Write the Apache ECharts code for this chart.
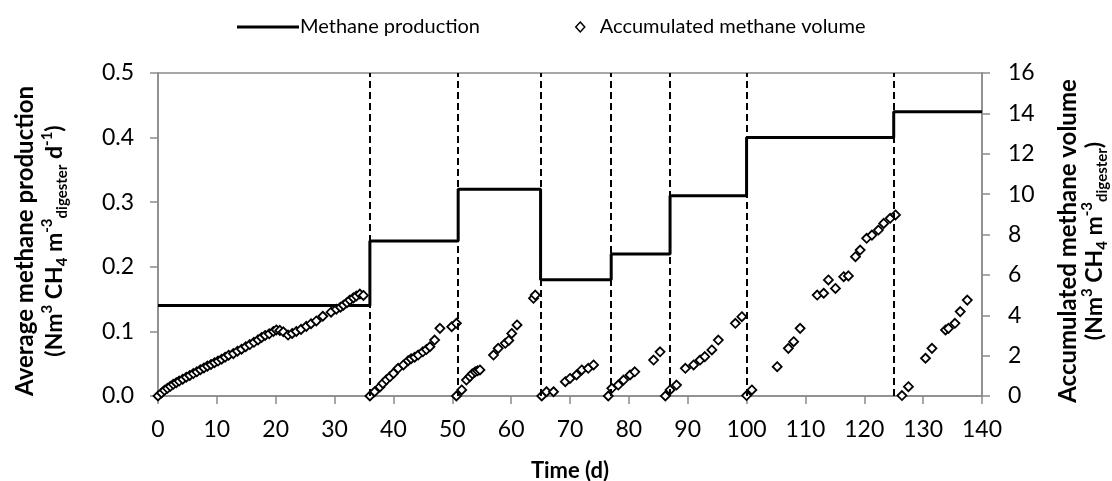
<!DOCTYPE html>
<html>
<head>
<meta charset="utf-8">
<script src="https://cdn.jsdelivr.net/npm/echarts@6/dist/echarts.min.js"></script>
<style>
  html, body { margin: 0; padding: 0; background: #fff; }
  #chart { width: 1112px; height: 481px; }
</style>
</head>
<body>
<div id="chart"></div>
<script>
// ---- Data ----
const xTicks = [0, 10, 20, 30, 40, 50, 60, 70, 80, 90, 100, 110, 120, 130, 140];
const leftTicks = [0.0, 0.1, 0.2, 0.3, 0.4, 0.5];
const rightTicks = [0, 2, 4, 6, 8, 10, 12, 14, 16];

// Stepwise average methane production (level starts at the given day)
const stepDays = [0, 36, 51, 65, 77, 87, 100, 125, 140];
const stepProduction = [0.14, 0.24, 0.32, 0.18, 0.22, 0.31, 0.40, 0.44, 0.44];

// Period boundaries (dashed lines)
const boundaryDays = [36, 51, 65, 77, 87, 100, 125];

// Accumulated methane volume (day, value)
const accDays = [
  0, 0.6, 1.1, 1.6, 2.1, 2.6, 3.1, 3.6, 4.2, 4.8, 5.4, 6.0, 6.6, 7.2, 7.8, 8.4, 9.0, 9.6, 10.2, 10.8,
  11.4, 12.0, 12.8, 13.5, 14.2, 14.9, 15.6, 16.3, 17.0, 17.6, 18.2, 18.9, 19.6, 20.1, 20.7, 21.3, 22.1,
  22.8, 23.5, 24.3, 25.2, 26.0, 26.9, 28.0, 29.4, 30.3, 31.0, 31.5, 32.1, 32.6, 33.2, 33.7, 34.3, 34.9,
  36.0, 36.8, 37.7, 38.2, 38.8, 39.4, 40.0, 40.8, 41.7, 42.5, 43.0, 43.6, 44.2, 45.0, 45.6, 46.2, 47.0, 47.9, 49.9, 50.7,
  50.7, 51.6, 52.4, 53.0, 53.4, 53.9, 54.3, 54.7, 57.0, 57.8, 59.0, 59.6, 60.1, 61.0, 63.8, 64.1,
  65.2, 66.0, 67.2, 69.2, 70.0, 71.1, 72.0, 73.1, 74.0,
  76.5, 77.1, 78.2, 79.1, 80.2, 81.0, 84.2, 85.3,
  86.2, 87.0, 88.1, 89.6, 91.0, 92.1, 92.9, 94.1, 95.2, 98.1, 99.2,
  100.0, 100.9, 105.2, 107.1, 108.0, 109.1, 112.0, 113.1, 113.9, 115.1, 116.5, 117.3, 118.5, 119.3,
  120.4, 121.3, 122.4, 123.3, 124.4, 125.3,
  126.4, 127.5, 130.4, 131.5, 133.8, 134.3, 135.4, 136.3, 137.5
];
const accVolume = [
  0, 0.15, 0.28, 0.38, 0.48, 0.58, 0.66, 0.74, 0.83, 0.93, 1.02, 1.11, 1.2, 1.3, 1.39, 1.48, 1.56, 1.65, 1.73, 1.82,
  1.92, 2.02, 2.1, 2.22, 2.32, 2.44, 2.55, 2.66, 2.78, 2.9, 3.0, 3.08, 3.2, 3.27, 3.25, 3.18, 3.02,
  3.1, 3.2, 3.3, 3.45, 3.58, 3.72, 3.95, 4.15, 4.3, 4.4, 4.5, 4.62, 4.75, 4.86, 4.95, 5.05, 4.98,
  0, 0.21, 0.45, 0.62, 0.8, 0.95, 1.12, 1.37, 1.54, 1.75, 1.85, 1.92, 2.03, 2.19, 2.3, 2.44, 2.77, 3.35, 3.43, 3.6,
  0, 0.3, 0.79, 0.96, 1.1, 1.2, 1.25, 1.29, 2.03, 2.36, 2.61, 2.75, 3.1, 3.52, 4.84, 5.0,
  0, 0.21, 0.21, 0.71, 0.87, 1.04, 1.29, 1.37, 1.54,
  0, 0.38, 0.54, 0.79, 1.04, 1.2, 1.78, 2.19,
  0, 0.3, 0.54, 1.37, 1.54, 1.78, 1.95, 2.28, 2.77, 3.6, 3.93,
  0.02, 0.3, 1.45, 2.36, 2.69, 3.35, 5.0, 5.09, 5.75, 5.33, 5.91, 5.95, 6.9, 7.23,
  7.81, 7.97, 8.22, 8.55, 8.8, 8.97,
  0.02, 0.46, 1.87, 2.36, 3.27, 3.35, 3.6, 4.18, 4.75
];

// ---- Chart ----
const FONT = 'Lato, "Liberation Sans", sans-serif';
const AXIS_GREY = '#8a8a8a';
const chart = echarts.init(document.getElementById('chart'));

const stepData = stepDays.map((d, i) => [d, stepProduction[i]]);
const accData = accDays.map((d, i) => [d, accVolume[i]]);

const titleRich = {
  b: { fontFamily: FONT, fontWeight: 'bold', fontSize: 23, color: '#000', lineHeight: 30 },
  sup: { fontFamily: FONT, fontWeight: 'bold', fontSize: 15, color: '#000', lineHeight: 30, verticalAlign: 'top', padding: [0, 0, 12, 0] },
  sub: { fontFamily: FONT, fontWeight: 'bold', fontSize: 15, color: '#000', lineHeight: 30, verticalAlign: 'bottom', padding: [8, 0, 0, 0] }
};

chart.setOption({
  animation: false,
  backgroundColor: '#fff',
  grid: {
    left: 158, right: 130, top: 73, bottom: 85,
    containLabel: false, outerBoundsMode: 'none',
    show: true, borderColor: AXIS_GREY, borderWidth: 1.5
  },
  legend: [
    {
      data: ['Methane production'],
      left: 232, top: 12,
      itemWidth: 62, itemHeight: 3, itemGap: 4,
      icon: 'rect',
      textStyle: { fontFamily: FONT, fontSize: 20, color: '#000', padding: [0, 0, 0, -4] }
    },
    {
      data: ['Accumulated methane volume'],
      left: 570, top: 12,
      itemWidth: 9, itemHeight: 10,
      icon: 'diamond',
      itemStyle: { color: '#fff', borderColor: '#000', borderWidth: 1.5 },
      textStyle: { fontFamily: FONT, fontSize: 20, color: '#000', padding: [0, 0, 0, 10] }
    }
  ],
  xAxis: {
    type: 'value', min: 0, max: 140, interval: 10,
    axisLine: { show: true, lineStyle: { color: AXIS_GREY, width: 1.5 } },
    axisTick: { show: true, length: 8, lineStyle: { color: AXIS_GREY, width: 1.5 } },
    axisLabel: { fontFamily: FONT, fontSize: 23, color: '#000', margin: 22 },
    splitLine: { show: false },
    name: 'Time (d)', nameLocation: 'middle', nameGap: 64,
    nameTextStyle: { fontFamily: FONT, fontSize: 22, fontWeight: 'bold', color: '#000' }
  },
  yAxis: [
    {
      type: 'value', min: 0, max: 0.5, interval: 0.1, position: 'left',
      axisLine: { show: true, lineStyle: { color: AXIS_GREY, width: 1.5 } },
      axisTick: { show: true, length: 8, lineStyle: { color: AXIS_GREY, width: 1.5 } },
      axisLabel: { fontFamily: FONT, fontSize: 23, color: '#000', margin: 24, formatter: v => v.toFixed(1) },
      splitLine: { show: false }
    },
    {
      type: 'value', min: 0, max: 16, interval: 2, position: 'right',
      axisLine: { show: true, lineStyle: { color: AXIS_GREY, width: 1.5 } },
      axisTick: { show: true, length: 8, lineStyle: { color: AXIS_GREY, width: 1.5 } },
      axisLabel: { fontFamily: FONT, fontSize: 23, color: '#000', margin: 26 },
      splitLine: { show: false }
    }
  ],
  series: [
    {
      name: 'Methane production',
      type: 'line',
      yAxisIndex: 0,
      step: 'end',
      data: stepData,
      symbol: 'none',
      lineStyle: { color: '#000', width: 3 },
      itemStyle: { color: '#000' },
      z: 3,
      markLine: {
        silent: true,
        symbol: ['none', 'none'],
        label: { show: false },
        lineStyle: { color: '#000', width: 2, type: [7, 4] },
        data: boundaryDays.map(d => ({ xAxis: d }))
      }
    },
    {
      name: 'Accumulated methane volume',
      type: 'scatter',
      yAxisIndex: 1,
      data: accData,
      symbol: 'diamond',
      symbolSize: 9,
      itemStyle: { color: '#fff', borderColor: '#000', borderWidth: 1.8, opacity: 1 },
      z: 4
    }
  ],
  graphic: [
    {
      type: 'text', x: 25, y: 241, rotation: Math.PI / 2,
      style: { text: 'Average methane production', fontFamily: FONT, fontWeight: 'bold', fontSize: 24, fill: '#000', align: 'center', verticalAlign: 'middle' }
    },
    {
      type: 'text', x: 55, y: 241, rotation: Math.PI / 2,
      style: {
        text: '{b|(Nm}{sup|3}{b| CH}{sub|4}{b| m}{sup|-3}{sub|digester}{b| d}{sup|-1}{b|)}',
        rich: titleRich, align: 'center', verticalAlign: 'middle'
      }
    },
    {
      type: 'text', x: 1068, y: 241, rotation: Math.PI / 2,
      style: { text: 'Accumulated methane volume', fontFamily: FONT, fontWeight: 'bold', fontSize: 24, fill: '#000', align: 'center', verticalAlign: 'middle' }
    },
    {
      type: 'text', x: 1095, y: 241, rotation: Math.PI / 2,
      style: {
        text: '{b|(Nm}{sup|3}{b| CH}{sub|4}{b| m}{sup|-3}{sub|digester}{b|)}',
        rich: titleRich, align: 'center', verticalAlign: 'middle'
      }
    }
  ]
});
</script>
</body>
</html>
